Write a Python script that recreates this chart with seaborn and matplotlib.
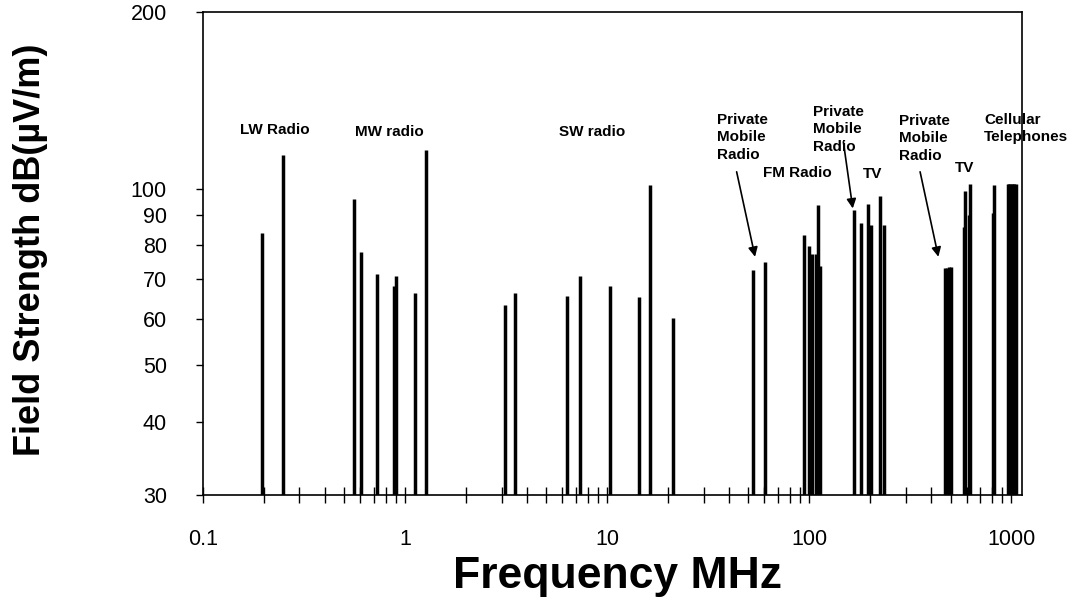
import numpy as np
import pandas as pd
import matplotlib.pyplot as plt
import matplotlib.ticker as mticker
import seaborn as sns

# Transmitter frequencies (MHz) and field strength levels
lw_freq = [0.195, 0.250]
lw_level = [84.0, 114.0]
mw_freq = [0.561, 0.603, 0.724, 0.882, 0.899, 1.121, 1.270]
mw_level = [96.0, 78.0, 71.6, 68.2, 70.8, 66.4, 116.6]
sw_freq = [3.12, 3.48, 6.32, 7.33, 10.35, 14.3, 16.3, 21.1]
sw_level = [63.4, 66.4, 65.5, 71.0, 68.1, 65.2, 101.6, 60.1]
pmr_low_freq = [52.4, 60.6]
pmr_low_level = [72.7, 75.0]
fm_freq = [93.7, 99.2, 102.6, 108.3, 110.4, 113.4]
fm_level = [83.2, 79.8, 77.4, 77.4, 93.6, 73.9]
pmr_mid_freq = [165.7]
pmr_mid_level = [92.1]
tv3_freq = [180.9, 195.3, 202.0, 224.7, 233.3]
tv3_level = [87.3, 94.1, 86.7, 97.1, 86.7]
pmr_uhf_freq = [472.0, 482.0, 492.0, 505.0]
pmr_uhf_level = [73.3, 73.3, 73.6, 73.6]
tv_uhf_freq = [580.0, 588.0, 615.0, 622.0, 810.0, 817.0]
tv_uhf_level = [86.0, 99.0, 90.0, 102.0, 91.0, 101.5]
cell_freq = [960.0, 975.0, 990.0, 1005.0, 1020.0, 1035.0, 1050.0]
cell_level = [102.0, 102.0, 102.0, 102.0, 102.0, 102.0, 102.0]

y_ticks = [30, 40, 50, 60, 70, 80, 90, 100, 200]
x_ticks = [0.1, 1, 10, 100, 1000]
x_ticklabels = ["0.1", "1", "10", "100", "1000"]

data = pd.DataFrame({
    "freq": lw_freq + mw_freq + sw_freq + pmr_low_freq + fm_freq + pmr_mid_freq
            + tv3_freq + pmr_uhf_freq + tv_uhf_freq + cell_freq,
    "level": lw_level + mw_level + sw_level + pmr_low_level + fm_level + pmr_mid_level
             + tv3_level + pmr_uhf_level + tv_uhf_level + cell_level,
})

sns.set_style("white")
plt.rcParams["font.family"] = ["Liberation Sans", "DejaVu Sans"]
plt.rcParams["text.color"] = "black"
plt.rcParams["axes.labelcolor"] = "black"
plt.rcParams["xtick.color"] = "black"
plt.rcParams["ytick.color"] = "black"

fig = plt.figure(figsize=(10.77, 6.10), dpi=100)
ax = fig.add_axes([0.1885, 0.1885, 0.7605, 0.7915])

ax.vlines(data["freq"], 30, data["level"], color="black", linewidth=2.5)

ax.set_xscale("log")
ax.set_yscale("log")
ax.set_xlim(0.1, 1130)
ax.set_ylim(30, 200)

ax.xaxis.set_major_locator(mticker.FixedLocator(x_ticks))
ax.xaxis.set_major_formatter(mticker.FixedFormatter(x_ticklabels))
ax.xaxis.set_minor_locator(mticker.LogLocator(base=10, subs=np.arange(2, 10)))
ax.xaxis.set_minor_formatter(mticker.NullFormatter())
ax.yaxis.set_major_locator(mticker.FixedLocator(y_ticks))
ax.yaxis.set_major_formatter(mticker.FixedFormatter([str(t) for t in y_ticks]))
ax.yaxis.set_minor_locator(mticker.NullLocator())

ax.tick_params(axis="x", which="both", bottom=True, direction="inout", length=11,
               width=1, labelsize=15.5, pad=19, color="black")
ax.tick_params(axis="y", which="major", left=True, direction="out", length=5,
               width=1, labelsize=15.5, pad=21, color="black")
for s in ax.spines.values():
    s.set_color("black")
    s.set_linewidth(1.2)

ax.set_xlabel("Frequency MHz", fontsize=32, fontweight="bold", va="center")
ax.xaxis.set_label_coords(0.5055, -0.1698)
ax.set_ylabel("Field Strength dB(\u00b5V/m)", fontsize=26, fontweight="bold", va="center")
ax.yaxis.set_label_coords(-0.2112, 0.507)

tkw = dict(transform=ax.transAxes, fontsize=11, fontweight="bold", ha="left")
ax.text(0.0452, 0.7567, "LW Radio", va="center", **tkw)
ax.text(0.1856, 0.7526, "MW radio", va="center", **tkw)
ax.text(0.4347, 0.7526, "SW radio", va="center", **tkw)
ax.text(0.6276, 0.7909, "Private\nMobile\nRadio", va="top", linespacing=1.3, **tkw)
ax.text(0.6834, 0.6677, "FM Radio", va="center", **tkw)
ax.text(0.7448, 0.8075, "Private\nMobile\nRadio", va="top", linespacing=1.3, **tkw)
ax.text(0.8055, 0.6646, "TV", va="center", **tkw)
ax.text(0.8498, 0.7888, "Private\nMobile\nRadio", va="top", linespacing=1.3, **tkw)
ax.text(0.9182, 0.678, "TV", va="center", **tkw)
ax.text(0.9536, 0.7915, "Cellular\nTelephones", va="top", linespacing=1.3, clip_on=False, **tkw)

akw = dict(xycoords="axes fraction", textcoords="axes fraction",
           arrowprops=dict(arrowstyle="-|>", color="black", lw=1.2, mutation_scale=14,
                           shrinkA=0, shrinkB=0))
ax.annotate("", xy=(0.674, 0.4934), xytext=(0.6515, 0.6694), **akw)
ax.annotate("", xy=(0.7933, 0.5936), xytext=(0.7818, 0.7315), **akw)
ax.annotate("", xy=(0.8978, 0.4934), xytext=(0.8755, 0.6694), **akw)

fig.savefig("out.png", dpi=100)
